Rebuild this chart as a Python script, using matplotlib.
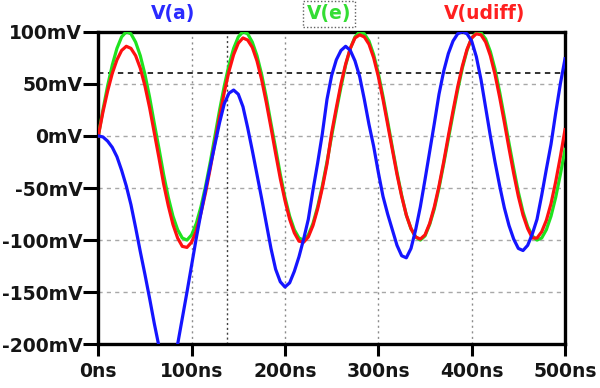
import numpy as np
import matplotlib
matplotlib.use("Agg")
import matplotlib.pyplot as plt

# time axis in ns, 5 ns steps
t_ns = list(range(0, 505, 5))

# V(a) in mV
v_a = [0, -1, -5, -11, -20, -33, -48, -66, -88, -111,
       -133, -156, -180, -202, -216, -220, -213, -200, -175, -150,
       -124, -98, -74, -51, -29, -8, 13, 31, 41, 44,
       40, 28, 8, -14, -37, -60, -84, -108, -128, -140,
       -145, -141, -130, -116, -99, -80, -52, -26, 2, 35,
       58, 73, 82, 86, 82, 72, 57, 35, 11, -10,
       -35, -58, -75, -90, -105, -115, -117, -108, -90, -68,
       -42, -15, 12, 40, 62, 79, 91, 98, 100, 98,
       91, 76, 54, 27, 0, -25, -48, -69, -86, -99,
       -108, -110, -105, -94, -80, -57, -32, -8, 22, 50,
       74]

# V(e) in mV
v_e = [0, 25, 48, 68, 84, 95, 100, 98, 90, 77,
       59, 37, 12, -12, -37, -59, -77, -90, -98, -100,
       -95, -84, -68, -48, -25, 0, 25, 48, 68, 84,
       95, 100, 98, 90, 77, 59, 37, 12, -12, -37,
       -59, -77, -90, -98, -100, -95, -84, -68, -48, -25,
       0, 24, 47, 68, 84, 95, 100, 98, 91, 78,
       60, 38, 14, -11, -35, -57, -76, -89, -97, -100,
       -96, -85, -70, -50, -27, -3, 21, 44, 65, 82,
       94, 99, 99, 93, 81, 64, 42, 18, -7, -31,
       -54, -73, -87, -96, -100, -98, -90, -77, -59, -37,
       -13]

# V(udiff) in mV
v_udiff = [0, 23, 43, 60, 73, 82, 86, 84, 77, 65,
           48, 27, 3, -21, -46, -67, -85, -98, -106, -107,
           -102, -91, -74, -54, -31, -6, 19, 42, 62, 78,
           89, 94, 92, 85, 72, 54, 32, 8, -17, -41,
           -62, -80, -93, -101, -102, -97, -86, -70, -50, -27,
           3, 27, 50, 69, 84, 94, 97, 95, 88, 75,
           57, 35, 11, -13, -37, -58, -76, -89, -97, -99,
           -95, -84, -68, -48, -25, 0, 24, 47, 67, 83,
           94, 98, 97, 90, 77, 59, 37, 13, -12, -36,
           -58, -76, -89, -98, -98, -92, -81, -65, -44, -20,
           6]

x_ticks = [0, 100, 200, 300, 400, 500]
x_labels = ["0ns", "100ns", "200ns", "300ns", "400ns", "500ns"]
y_ticks = [-200, -150, -100, -50, 0, 50, 100]
y_labels = ["-200mV", "-150mV", "-100mV", "-50mV", "0mV", "50mV", "100mV"]

cursor_t = 137.5
cursor_v = 60

fig = plt.figure(figsize=(6, 3.88), dpi=100)
ax = fig.add_axes([0.1638, 0.1126, 0.7779, 0.8057])

# grid
for xt in x_ticks[1:-1]:
    ax.axvline(xt, color="#8c8c8c", lw=1.0, ls=(0, (1.5, 2.5)), zorder=1)
for yt in y_ticks[1:-1]:
    ax.axhline(yt, color="#a8a8a8", lw=1.0, ls=(0, (3, 3)), zorder=1)

# cursors
ax.axvline(cursor_t, color="#404040", lw=1.0, ls=(0, (1.5, 2)), zorder=1)
ax.axhline(cursor_v, color="#202020", lw=1.3, ls=(0, (3, 2.5)), zorder=1)

ax.plot(t_ns, v_e, color="#1fe21f", lw=2.3, zorder=3)
ax.plot(t_ns, v_udiff, color="#ff1010", lw=2.3, zorder=4)
ax.plot(t_ns, v_a, color="#1515ff", lw=2.3, zorder=5)

ax.set_xlim(0, 500)
ax.set_ylim(-200, 100)
ax.set_xticks(x_ticks)
ax.set_xticklabels(x_labels)
ax.set_yticks(y_ticks)
ax.set_yticklabels(y_labels)

for s in ax.spines.values():
    s.set_linewidth(2.4)
    s.set_color("black")
ax.tick_params(axis="both", direction="out", width=2.2,
               labelsize=13.5, colors="black")
ax.tick_params(axis="y", length=11, pad=0.5)
ax.tick_params(axis="x", length=8.5, pad=4)
for lab in ax.get_xticklabels() + ax.get_yticklabels():
    lab.set_fontweight("bold")
    lab.set_color("#151515")

# trace names above the plot
fig.text(173 / 600, 1 - 14 / 388, "V(a)", color="#2a2aff", fontsize=13.5,
         fontweight="bold", ha="center", va="center")
fig.text(329 / 600, 1 - 14 / 388, "V(e)", color="#33dd33", fontsize=13.5,
         fontweight="bold", ha="center", va="center",
         bbox=dict(boxstyle="square,pad=0.2", fc="none", ec="#606060",
                   lw=1.0, ls=(0, (1, 1.5))))
fig.text(485 / 600, 1 - 14 / 388, "V(udiff)", color="#ff2020", fontsize=13.5,
         fontweight="bold", ha="center", va="center")

fig.savefig("out.png", dpi=100)
